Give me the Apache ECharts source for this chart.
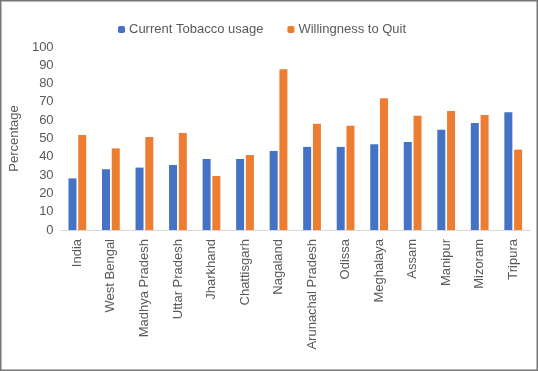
<!DOCTYPE html>
<html>
<head>
<meta charset="utf-8">
<script src="https://cdn.jsdelivr.net/npm/echarts@6/dist/echarts.min.js"></script>
<style>
html, body { margin: 0; padding: 0; background: #fff; }
#mychart { width: 538px; height: 371px; }
</style>
</head>
<body>
<div id="mychart"></div>
<script>
"use strict";
const states = ['India', 'West Bengal', 'Madhya Pradesh', 'Uttar Pradesh', 'Jharkhand', 'Chattisgarh',
    'Nagaland', 'Arunachal Pradesh', 'Odissa', 'Meghalaya', 'Assam', 'Manipur', 'Mizoram', 'Tripura'];
const tobaccoUsage = [28.2, 33.2, 34.1, 35.5, 38.8, 38.8, 43.2, 45.4, 45.4, 46.8, 48.1, 54.8, 58.5, 64.3];
const willingnessToQuit = [51.9, 44.6, 50.8, 53.0, 29.5, 41.0, 87.8, 58.0, 57.0, 72.0, 62.5, 65.0, 62.8, 43.9];

const textColor = '#595959';
const font = 'Liberation Sans';

const myChart = echarts.init(document.getElementById('mychart'));
const option = {
    animation: false,
    textStyle: { fontFamily: font },
    graphic: [{
        type: 'rect',
        shape: { x: 0.75, y: 0.75, width: 536.5, height: 369.5 },
        style: { fill: 'none', stroke: '#777', lineWidth: 1.5 },
        silent: true
    }],
    legend: {
        top: 18,
        left: 113,
        itemWidth: 7,
        itemHeight: 7,
        itemGap: 24,
        textStyle: { color: textColor, fontSize: 13, fontFamily: font, padding: [0, 0, 0, -1] },
        data: ['Current Tobacco usage', 'Willingness to Quit']
    },
    grid: {
        left: 53,
        right: 8,
        top: 47,
        bottom: 141
    },
    xAxis: {
        type: 'category',
        data: states,
        axisLine: { lineStyle: { color: '#d9d9d9', width: 1 } },
        axisTick: { show: false },
        axisLabel: {
            rotate: 90,
            interval: 0,
            margin: 9,
            color: textColor,
            fontSize: 13,
            fontFamily: font
        }
    },
    yAxis: {
        type: 'value',
        min: 0,
        max: 100,
        interval: 10,
        name: 'Percentage',
        nameLocation: 'middle',
        nameRotate: 90,
        nameGap: 31,
        nameTextStyle: { color: textColor, fontSize: 13, fontFamily: font },
        axisLine: { show: false },
        axisTick: { show: false },
        splitLine: { show: false },
        axisLabel: { color: textColor, fontSize: 13, fontFamily: font, margin: 7 }
    },
    series: [
        {
            name: 'Current Tobacco usage',
            type: 'bar',
            data: tobaccoUsage,
            barWidth: 8,
            barGap: '22%',
            itemStyle: { color: '#4472C4' }
        },
        {
            name: 'Willingness to Quit',
            type: 'bar',
            data: willingnessToQuit,
            barWidth: 8,
            barGap: '22%',
            itemStyle: { color: '#ED7D31' }
        }
    ]
};
myChart.setOption(option);
</script>
</body>
</html>
